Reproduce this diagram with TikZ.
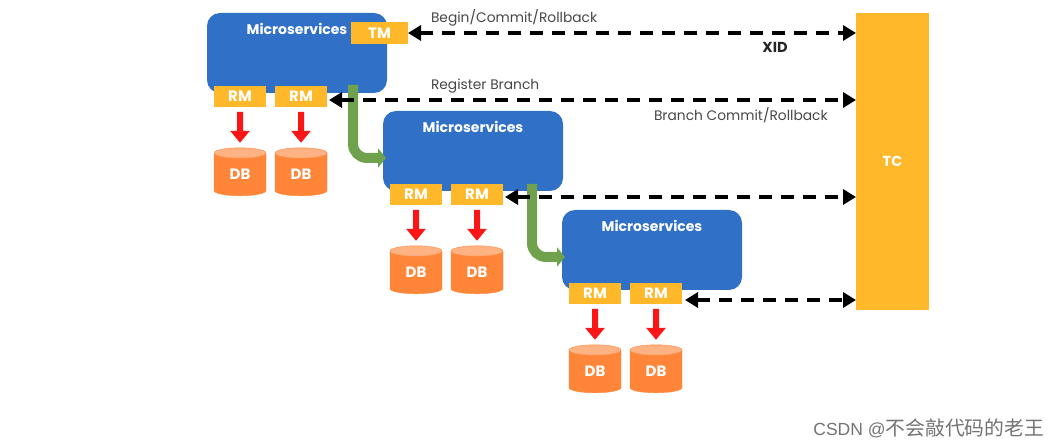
\documentclass[tikz,border=0pt]{standalone}
\usepackage{fontspec}
\setmainfont{Poppins}
\newfontfamily\latinwm{Liberation Sans}
\newfontfamily\cjkwm{Noto Sans CJK SC}
\usetikzlibrary{arrows.meta,shapes.geometric,calc}
\definecolor{svcblue}{RGB}{48,113,199}
\definecolor{amber}{RGB}{255,184,41}
\definecolor{dborange}{RGB}{255,134,56}
\definecolor{dbtop}{RGB}{255,178,132}
\definecolor{flowgreen}{RGB}{112,162,77}
\definecolor{callred}{RGB}{250,22,22}
\tikzset{
  every node/.style={inner sep=0pt,outer sep=0pt},
  service/.style={draw=none,fill=svcblue,rounded corners=13pt,minimum width=180pt,minimum height=80pt},
  title/.style={text=white,font=\fontsize{14}{16}\selectfont\bfseries},
  tag/.style={fill=amber,text=white,font=\fontsize{15}{17}\selectfont\bfseries,minimum width=52pt,minimum height=21pt},
  db/.style={cylinder,shape border rotate=90,aspect=0.5,minimum width=52pt,minimum height=48pt,
    cylinder uses custom fill,cylinder body fill=dborange,cylinder end fill=dbtop,
    draw=dborange,line width=0.4pt,text=white,font=\fontsize{15}{17}\selectfont\bfseries},
  caption/.style={text=black!72,font=\fontsize{13.8}{16}\selectfont},
  txn/.style={line width=4pt,black,dash pattern=on 13pt off 9pt},
  both tips/.style={{Triangle[length=13pt,width=15pt]}-{Triangle[length=13pt,width=15pt]}},
  call/.style={line width=6pt,callred,-{Triangle[length=12pt,width=19pt]}},
  flow/.style={line width=10pt,flowgreen,rounded corners=14pt,-{Triangle[length=8pt,width=19pt]}}
}
\begin{document}
\begin{tikzpicture}[x=1pt,y=-1pt]
\useasboundingbox (0,0) rectangle (1060,446);

% transaction coordinator
\node[fill=amber,minimum width=73pt,minimum height=297pt,text=white,
      font=\fontsize{14.5}{16}\selectfont\bfseries] (tc) at (892.5,161.5) {TC};

% microservice blocks with their resource managers and databases
\foreach \n/\x/\y in {a/297/53,b/473/151,c/652/250}{
  \node[service] (\n) at (\x,\y) {};
  \node[title] (\n t) at (\x,\y-24) {Microservices};
  \node[tag] (\n r1) at (\x-57,\y+43.5) {RM};
  \node[tag] (\n r2) at (\x+4,\y+43.5) {RM};
  \node[db] (\n d1) at (\x-57,\y+121.5) {DB};
  \node[db] (\n d2) at (\x+4,\y+121.5) {DB};
  \draw[call] ($(\n r1.south)+(0,5)$) -- ($(\n d1.north)+(0,-5)$);
  \draw[call] ($(\n r2.south)+(0,5)$) -- ($(\n d2.north)+(0,-5)$);
}
\node[tag,minimum width=57pt,minimum height=22pt] (tm) at (379.5,33) {TM};

% invocation flow between services
\coordinate (fa) at ($(a.south)+(56,-8)$);
\coordinate (fb) at ($(b.south)+(59,-7)$);
\draw[flow] (fa) -- (fa |- 0,158) -- ($(b.west)+(3,7)$);
\draw[flow] (fb) -- (fb |- 0,257) -- ($(c.west)+(3,7)$);

% branch and global transaction messages
\draw[txn,both tips] (tm.east) -- (tc.west |- tm.east);
\coordinate (e1) at ($(ar2.east)+(2,3.5)$);
\draw[txn,both tips] (e1) -- (tc.west |- e1);
\coordinate (e2) at ($(br2.east)+(2,2.5)$);
\draw[txn,both tips] (e2) -- (tc.west |- e2);
\coordinate (e3) at ($(cr2.east)+(3,6.5)$);
\draw[txn,both tips] (e3) -- (tc.west |- e3);

% message captions
\node[caption,anchor=west] (c1) at (431,18) {Begin/Commit/Rollback};
\node[caption,anchor=west] (c2) at (431,86) {Register Branch};
\node[caption,anchor=west] (c3) at (654,115) {Branch Commit/Rollback};
\node[text=black!85,font=\fontsize{14.5}{16}\selectfont\bfseries] (xid) at (775,47) {XID};

% signature line
\node[text=black!55,anchor=east] (sig) at (1044,428)
  {\fontsize{17.5}{20}\selectfont\latinwm CSDN @\fontsize{19.8}{20}\selectfont\cjkwm 不会敲代码的老王};
\end{tikzpicture}
\end{document}
